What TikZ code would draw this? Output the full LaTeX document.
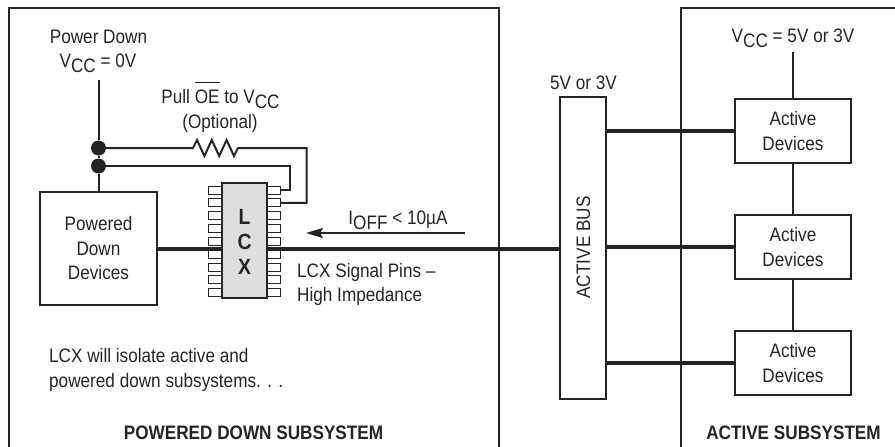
\documentclass[tikz,border=0pt]{standalone}
\usepackage{fontspec}
\setmainfont[FakeStretch=0.88]{Liberation Sans}
\usetikzlibrary{arrows.meta}
\newcommand{\sbs}[1]{\raisebox{-0.3em}{#1}}
\newcommand{\barred}[1]{\setbox0\hbox{#1}\rlap{\rule[1.02em]{\wd0}{0.7pt}}\box0\relax}
\newcommand{\txt}{\fontsize{19.5}{24.5}\selectfont}
\definecolor{ink}{gray}{0.14}
\tikzset{
 x=1pt,y=-1pt,
 frame/.style={line width=2pt,draw=ink},
 boxn/.style={draw=ink,line width=2pt,fill=white,align=center,inner sep=0pt,text=ink,font=\txt},
 lab/.style={inner sep=0pt,align=center,font=\txt,text=ink},
 wire/.style={line width=2pt,draw=ink},
 thick wire/.style={line width=4pt,draw=ink},
 pin/.style={draw=ink,line width=1pt,fill=white,minimum width=14pt,minimum height=8pt,inner sep=0pt},
 dot/.style={circle,fill=ink,minimum size=15pt,inner sep=0pt},
}
\begin{document}
\begin{tikzpicture}
\useasboundingbox (0,0) rectangle (895,447);
\draw[frame] (9,447) -- (9,8) -- (498.5,8) -- (498.5,447);
\draw[frame] (680.5,447) -- (680.5,8) -- (895,8);

\coordinate (vcc) at (98.5,80);
\node[dot] (d1) at (98.5,148) {};
\node[dot] (d2) at (98.5,166) {};
\node[boxn,minimum width=117pt,minimum height=113pt] (pd) at (98.5,248.5) {Powered\\Down\\Devices};
\node[lab,anchor=base] at (98.5,43) {Power Down};
\node[lab,anchor=base] at (98,67) {V\sbs{CC} = 0V};
\node[lab,anchor=base] at (220.5,103) {Pull \barred{OE} to V\sbs{CC}};
\node[lab,anchor=base] at (220,128) {(Optional)};
\coordinate (rl) at (193,148);
\coordinate (rr) at (238,148);

\foreach \i in {0,...,8}{
 \node[pin] (lp\i) at (215.5,190+\i*12.85) {};
 \node[pin] (rp\i) at (273.5,190+\i*12.85) {};
}
\node[draw=ink,line width=2pt,fill=black!13,minimum width=45pt,minimum height=115pt,inner sep=0pt] (lcx) at (244.5,240.5) {};
\node[lab,font=\fontsize{22}{25}\selectfont\bfseries] (lcxt) at (244.5,242) {L\\C\\X};
\draw[wire] (d1) -- (vcc);
\draw[wire] (d1) -- (d2);
\draw[wire] (d2) -- (pd.north);
\draw[wire] (d2) -- (289.5,166) -- (289.5,190) -- (rp0.east);
\draw[wire] (d1) -- (rl) -- ++(4,-8) -- ++(7.4,16) -- ++(7.4,-16) -- ++(7.4,16) -- ++(7.4,-16) -- ++(7.4,16) -- (rr |- d1) -- (306.5,148) -- (306.5,202.85) -- (rp1.east);

\draw[thick wire] (pd.east) -- (pd.east -| lcx.west);
\node[draw=ink,line width=2pt,fill=white,minimum width=46pt,minimum height=302pt,inner sep=0pt] (bus) at (583,248) {};
\node[lab,rotate=90,anchor=base] at (590,247.5) {ACTIVE BUS};
\draw[thick wire] (pd.east -| lcx.east) -- (pd.east -| bus.west);
\node[lab,anchor=base] at (583.5,89) {5V or 3V};

\node[boxn,minimum width=116pt,minimum height=64pt] (a1) at (793,131) {Active\\Devices};
\node[boxn,minimum width=116pt,minimum height=64pt] (a2) at (793,247) {Active\\Devices};
\node[boxn,minimum width=116pt,minimum height=64pt] (a3) at (793,363) {Active\\Devices};
\coordinate (av) at (793,52);
\draw[wire] (av) -- (a1);
\draw[wire] (a1) -- (a2);
\draw[wire] (a2) -- (a3);
\draw[thick wire] (bus.east |- a1.west) -- (a1.west);
\draw[thick wire] (bus.east |- a2.west) -- (a2.west);
\draw[thick wire] (bus.east |- a3.west) -- (a3.west);
\node[lab,anchor=base] at (793,42) {V\sbs{CC} = 5V or 3V};

\coordinate (as) at (465,233);
\coordinate (ae) at (306,233);
\draw[line width=2.4pt,draw=ink,-{Stealth[length=17pt,width=10pt,inset=3pt]}] (as) -- (ae);
\node[lab,anchor=base] at (398,224) {I\sbs{OFF} < 10µA};
\node[lab,anchor=base west] at (297,277) {LCX Signal Pins --};
\node[lab,anchor=base west] at (297,301) {High Impedance};
\node[lab,anchor=base west] at (49,362) {LCX will isolate active and};
\node[lab,anchor=base west] at (49,387) {powered down subsystems. . .};
\node[lab,anchor=base,font=\txt\bfseries] at (253.5,439.5) {POWERED DOWN SUBSYSTEM};
\node[lab,anchor=base,font=\txt\bfseries] at (793.5,439.5) {ACTIVE SUBSYSTEM};
\end{tikzpicture}
\end{document}
